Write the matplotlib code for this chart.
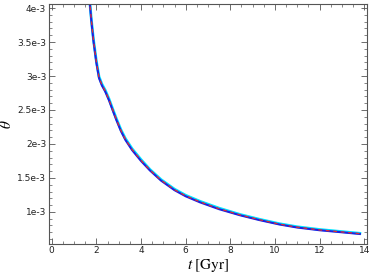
import numpy as np
import matplotlib.pyplot as plt
from matplotlib.ticker import MultipleLocator, FixedLocator

plt.rcParams["mathtext.fontset"] = "stix"

# Значения (t в Gyr, theta в единицах 1e-3)
t = [1.62, 1.70, 1.78, 1.87, 2.0, 2.12, 2.25, 2.4, 2.57, 2.75, 2.9, 3.1, 3.3,
     3.6, 4.0, 4.4, 4.9, 5.5, 6.0, 6.65, 7.5, 8.44, 9.3, 10.2, 11.0, 12.0, 13.0, 13.8]
theta_blue = [4.45, 4.10, 3.80, 3.52, 3.20, 2.97, 2.86, 2.77, 2.64, 2.48, 2.35, 2.19, 2.06,
              1.91, 1.75, 1.61, 1.46, 1.32, 1.23, 1.14, 1.04, 0.95, 0.88, 0.815, 0.77, 0.73, 0.70, 0.675]
theta_cyan = [4.46, 4.11, 3.82, 3.54, 3.22, 2.99, 2.88, 2.79, 2.66, 2.50, 2.37, 2.21, 2.08,
              1.93, 1.77, 1.625, 1.475, 1.335, 1.245, 1.155, 1.055, 0.962, 0.892, 0.826, 0.781, 0.741, 0.710, 0.685]
theta_red = [4.455, 4.105, 3.81, 3.53, 3.21, 2.98, 2.87, 2.78, 2.65, 2.49, 2.36, 2.20, 2.07,
             1.92, 1.76, 1.617, 1.467, 1.327, 1.237, 1.147, 1.047, 0.956, 0.886, 0.82, 0.775, 0.735, 0.705, 0.68]

yticks = [1e-3, 1.5e-3, 2e-3, 2.5e-3, 3e-3, 3.5e-3, 4e-3]
ytick_labels = ["1e-3", "1.5e-3", "2e-3", "2.5e-3", "3e-3", "3.5e-3", "4e-3"]

fig = plt.figure(figsize=(3.74, 2.76), dpi=100)
ax = fig.add_axes([49 / 374, 1 - 243.5 / 276, (367 - 49) / 374, (243.5 - 4) / 276])

ax.plot(t, np.array(theta_cyan) * 1e-3, color="#00e5ff", lw=2.0)
ax.plot(t, np.array(theta_blue) * 1e-3, color="#2020e0", lw=1.5)
ax.plot(t, np.array(theta_red) * 1e-3, color="#e03030", lw=0.9, ls=(0, (3, 3)))

ax.set_xlim(-0.12, 14.12)
ax.set_ylim(0.535e-3, 4.06e-3)

ax.set_xticks(range(0, 15, 2))
ax.xaxis.set_minor_locator(MultipleLocator(0.5))
ax.yaxis.set_major_locator(FixedLocator(yticks))
ax.set_yticklabels(ytick_labels)
ax.yaxis.set_minor_locator(MultipleLocator(0.1e-3))

ax.tick_params(which="both", direction="in", top=True, right=True, colors="#555555",
               labelcolor="#222222", labelsize=6.5, pad=2)
ax.tick_params(which="major", length=4, width=0.6)
ax.tick_params(which="minor", length=2, width=0.5)
for s in ax.spines.values():
    s.set_color("#555555")
    s.set_linewidth(0.8)

ax.set_xlabel(r"$t\;[\mathrm{Gyr}]$", fontsize=11, labelpad=1)
ax.set_ylabel(r"$\theta$", fontsize=11, labelpad=2)

fig.savefig("out.png", dpi=100)
